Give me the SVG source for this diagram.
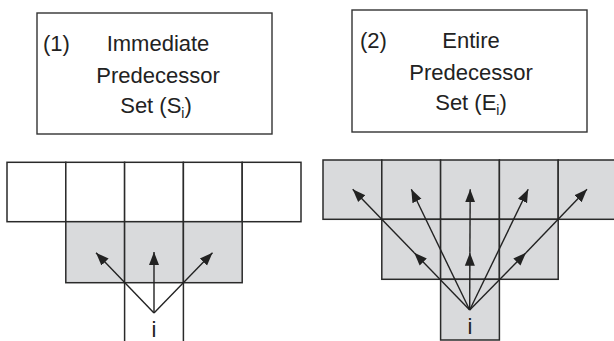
<svg xmlns="http://www.w3.org/2000/svg" width="614" height="341" viewBox="0 0 614 341">
<style>
.box{fill:#fff;stroke:#333;stroke-width:1.4}
.cw{fill:#fff;stroke:#2a2a2a;stroke-width:1.5}
.cg{fill:#d9dadc;stroke:#2a2a2a;stroke-width:1.5}
.ln{stroke:#2a2a2a;stroke-width:1.5;fill:none}
.ar{stroke:#222;stroke-width:1.4;fill:none;marker-end:url(#ah)}
.t{font-family:"Liberation Sans",Arial,sans-serif;font-size:22px;fill:#222}
.c{text-anchor:middle}
.sub{font-size:14px}
</style>
<defs>
<marker id="ah" markerUnits="userSpaceOnUse" markerWidth="14" markerHeight="12" viewBox="0 0 14 12" refX="13" refY="6" orient="auto">
<path d="M0,1 L13,6 L0,11 Z" fill="#222"/>
</marker>
</defs>
<g id="box1">
<rect class="box" x="37" y="13" width="235" height="121"/>
<text class="t" x="43" y="51">(1)</text>
<text class="t c" x="158" y="51">Immediate</text>
<text class="t c" x="158" y="82.5">Predecessor</text>
<text class="t c" x="156" y="113">Set (S<tspan class="sub" dy="5">i</tspan><tspan dy="-5">)</tspan></text>
</g>
<g id="box2">
<rect class="box" x="352" y="10" width="235" height="122"/>
<text class="t" x="360" y="48">(2)</text>
<text class="t c" x="471" y="48">Entire</text>
<text class="t c" x="471" y="79.5">Predecessor</text>
<text class="t c" x="471" y="110">Set (E<tspan class="sub" dy="5">i</tspan><tspan dy="-5">)</tspan></text>
</g>
<g id="grid1">
<rect class="cw" x="7" y="162.3" width="58.8" height="59.4"/>
<rect class="cw" x="65.8" y="162.3" width="58.8" height="59.4"/>
<rect class="cw" x="124.6" y="162.3" width="58.8" height="59.4"/>
<rect class="cw" x="183.4" y="162.3" width="58.8" height="59.4"/>
<rect class="cw" x="242.2" y="162.3" width="58.8" height="59.4"/>
<rect class="cg" x="65.8" y="221.7" width="58.8" height="61"/>
<rect class="cg" x="124.6" y="221.7" width="58.8" height="61"/>
<rect class="cg" x="183.4" y="221.7" width="58.8" height="61"/>
<line class="ln" x1="124.6" y1="282.7" x2="124.6" y2="341"/>
<line class="ln" x1="183.4" y1="282.7" x2="183.4" y2="341"/>
<text class="t c" x="154" y="337">i</text>
</g>
<g id="grid2">
<rect class="cg" x="323" y="160" width="58.8" height="59.3"/>
<rect class="cg" x="381.8" y="160" width="58.8" height="59.3"/>
<rect class="cg" x="440.6" y="160" width="58.8" height="59.3"/>
<rect class="cg" x="499.4" y="160" width="58.8" height="59.3"/>
<rect class="cg" x="558.2" y="160" width="58.8" height="59.3"/>
<rect class="cg" x="381.8" y="219.3" width="58.8" height="60"/>
<rect class="cg" x="440.6" y="219.3" width="58.8" height="60"/>
<rect class="cg" x="499.4" y="219.3" width="58.8" height="60"/>
<rect class="cg" x="440.6" y="279.3" width="58.8" height="60.7"/>
<text class="t c" x="470" y="333.5">i</text>
</g>
<g id="connectors">
<line class="ar" x1="154" y1="313" x2="96" y2="252.7"/>
<line class="ar" x1="154" y1="313" x2="154" y2="252"/>
<line class="ar" x1="154" y1="313" x2="212.5" y2="252.7"/>
<line class="ar" x1="469.7" y1="310" x2="414.2" y2="252.7"/>
<line class="ar" x1="414.2" y1="252.7" x2="352.7" y2="189.3"/>
<line class="ar" x1="469.7" y1="310" x2="411.3" y2="189.3"/>
<line class="ar" x1="469.7" y1="310" x2="469.9" y2="252.7"/>
<line class="ar" x1="469.9" y1="252.7" x2="470.2" y2="189.3"/>
<line class="ar" x1="469.7" y1="310" x2="528.2" y2="189.3"/>
<line class="ar" x1="469.7" y1="310" x2="526" y2="252.7"/>
<line class="ar" x1="526" y1="252.7" x2="587" y2="189.3"/>
</g>
</svg>
